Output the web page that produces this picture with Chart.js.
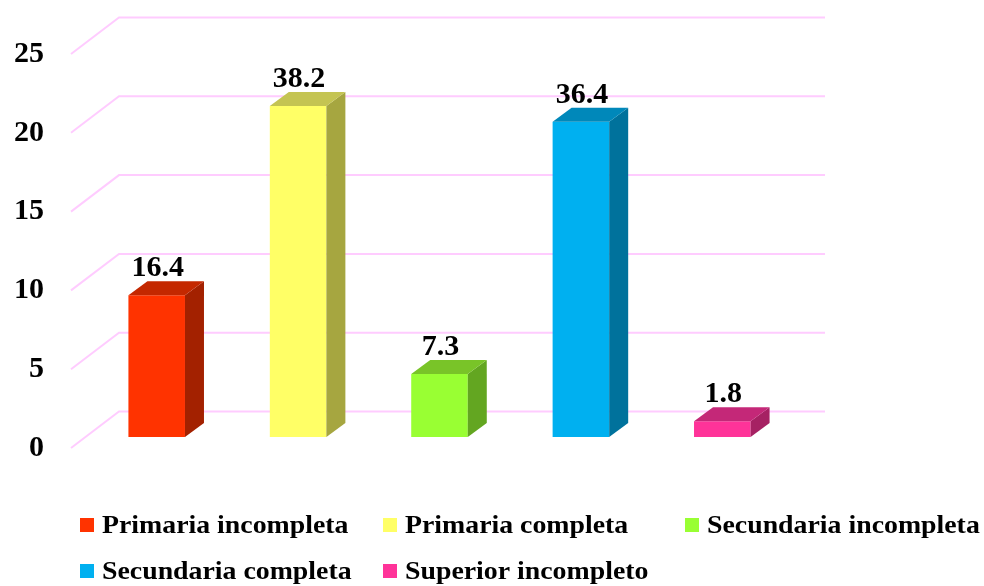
<!DOCTYPE html>
<html>
<head>
<meta charset="utf-8">
<script src="https://cdn.jsdelivr.net/npm/chart.js@4"></script>
<style>
  html, body { margin: 0; padding: 0; background: #ffffff; }
  #wrap { width: 984px; height: 586px; }
</style>
</head>
<body>
<div id="wrap"><canvas id="nivelChart"></canvas></div>
<script>
const categories = ['Primaria incompleta', 'Primaria completa', 'Secundaria incompleta', 'Secundaria completa', 'Superior incompleto'];
const counts = [9, 21, 4, 20, 1];
const percentLabels = ['16.4', '38.2', '7.3', '36.4', '1.8'];
const yTicks = [0, 5, 10, 15, 20, 25];

const frontColors = ['#FF3300', '#FFFF66', '#99FF33', '#00B0F0', '#FF3399'];
const sideColors = ['#A32100', '#A6A640', '#63A621', '#00729C', '#A62163'];
const topColors = ['#C42800', '#C4C452', '#79C428', '#0088BA', '#C42878'];

const serif = "'Liberation Serif', 'Times New Roman', serif";

// fake 3d: back wall grid, bar sides/tops, value labels, legend
const depthBox = {
  id: 'depthBox',
  beforeDatasetsDraw(chart) {
    const ctx = chart.ctx;
    const y = chart.scales.y;
    const area = chart.chartArea;
    ctx.save();
    ctx.strokeStyle = '#FFCCFF';
    ctx.lineWidth = 2;
    yTicks.forEach(v => {
      const p = y.getPixelForValue(v);
      ctx.beginPath();
      ctx.moveTo(area.left - 15, p + 11);
      ctx.lineTo(area.left + 33, p - 25.5);
      ctx.lineTo(area.right + 32, p - 25.5);
      ctx.stroke();
    });
    ctx.restore();
  },
  afterDatasetsDraw(chart) {
    const ctx = chart.ctx;
    const dx = 19, dy = 14;
    ctx.save();
    chart.getDatasetMeta(0).data.forEach((bar, i) => {
      const l = bar.x - bar.width / 2;
      const r = bar.x + bar.width / 2;
      ctx.fillStyle = sideColors[i];
      ctx.beginPath();
      ctx.moveTo(r, bar.y);
      ctx.lineTo(r + dx, bar.y - dy);
      ctx.lineTo(r + dx, bar.base - dy);
      ctx.lineTo(r, bar.base);
      ctx.closePath();
      ctx.fill();

      ctx.fillStyle = topColors[i];
      ctx.beginPath();
      ctx.moveTo(l, bar.y);
      ctx.lineTo(l + dx, bar.y - dy);
      ctx.lineTo(r + dx, bar.y - dy);
      ctx.lineTo(r, bar.y);
      ctx.closePath();
      ctx.fill();

      ctx.fillStyle = '#000000';
      ctx.font = 'bold 30px ' + serif;
      ctx.textAlign = 'center';
      ctx.textBaseline = 'alphabetic';
      ctx.fillText(percentLabels[i], bar.x + 1, bar.y - 19);
    });
    ctx.restore();
  },
  afterDraw(chart) {
    const ctx = chart.ctx;
    const cols = [80, 383, 685];
    const rows = [518, 564];
    ctx.save();
    ctx.font = 'bold 26px ' + serif;
    ctx.textAlign = 'left';
    ctx.textBaseline = 'alphabetic';
    categories.forEach((name, i) => {
      const cx = cols[i % 3];
      const cy = rows[Math.floor(i / 3)];
      ctx.fillStyle = frontColors[i];
      ctx.fillRect(cx, cy, 14, 14);
      ctx.fillStyle = '#000000';
      ctx.save();
      ctx.translate(cx + 22, cy + 15);
      ctx.scale(1.07, 1);
      ctx.fillText(name, 0, 0);
      ctx.restore();
    });
    ctx.restore();
  }
};

new Chart(document.getElementById('nivelChart'), {
  type: 'bar',
  data: {
    labels: categories,
    datasets: [{
      data: counts,
      backgroundColor: frontColors,
      borderWidth: 0,
      barPercentage: 0.4,
      categoryPercentage: 1
    }]
  },
  options: {
    responsive: true,
    maintainAspectRatio: false,
    animation: false,
    layout: {
      padding: { left: 14, right: 191, top: 43, bottom: 149 }
    },
    plugins: {
      legend: { display: false },
      tooltip: { enabled: false }
    },
    scales: {
      x: {
        display: false
      },
      y: {
        min: 0,
        max: 25,
        afterBuildTicks(scale) {
          scale.ticks = yTicks.map(v => ({ value: v }));
        },
        afterFit(scale) {
          scale.width = 72;
          scale.paddingTop = 0;
          scale.paddingBottom = 0;
        },
        grid: { display: false, drawTicks: false },
        border: { display: false },
        ticks: {
          color: '#000000',
          padding: 42,
          labelOffset: 11,
          font: { family: serif, size: 30, weight: 'bold' }
        }
      }
    }
  },
  plugins: [depthBox]
});
</script>
</body>
</html>
